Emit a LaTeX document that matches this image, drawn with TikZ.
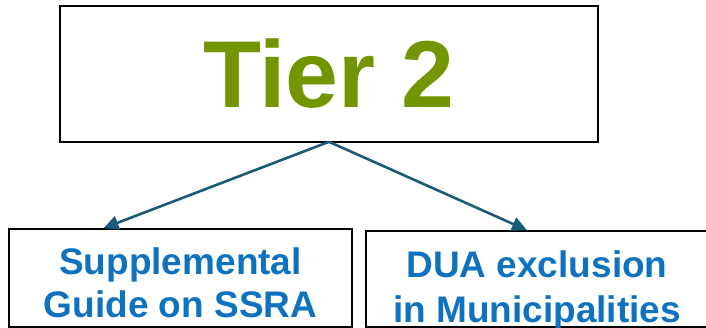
\documentclass[tikz,border=0pt]{standalone}
\usepackage{fontspec}
\setmainfont{Liberation Sans}
\usetikzlibrary{arrows.meta}
\definecolor{tiergreen}{HTML}{739600}
\definecolor{guideblue}{HTML}{0F72BE}
\definecolor{linkteal}{HTML}{1B5B78}
\begin{document}
\begin{tikzpicture}[x=1pt,y=-1pt,
    box/.style={draw=black,line width=1.6pt,inner sep=0pt},
    leaftext/.style={text=guideblue,align=center,font=\bfseries\fontsize{37}{43}\selectfont},
    link/.style={draw=linkteal,line width=2.6pt,-{Triangle[length=15pt,width=14pt]}}]
    \useasboundingbox (0,0) rectangle (706,328);
    \node[box,minimum width=538pt,minimum height=136pt,text=tiergreen,
        font=\bfseries\fontsize{95}{100}\selectfont] (tier) at (329,74) {Tier 2};
    \node[box,minimum width=343pt,minimum height=98pt] (sup) at (180.5,278) {};
    \node[box,minimum width=342pt,minimum height=96pt] (dua) at (537,279) {};
    \node[leaftext] (supText) at ([yshift=-5pt]sup.center) {Supplemental\\Guide on SSRA};
    \node[leaftext,font=\bfseries\fontsize{37}{45}\selectfont] (duaText)
        at ([yshift=-11pt]dua.center) {DUA exclusion\\in Municipalities};
    \coordinate (fork) at ([yshift=1pt]tier.south);
    \draw[link] (fork) -- ([xshift=-77pt]sup.north);
    \draw[link] (fork) -- ([xshift=-10pt]dua.north);
\end{tikzpicture}
\end{document}
